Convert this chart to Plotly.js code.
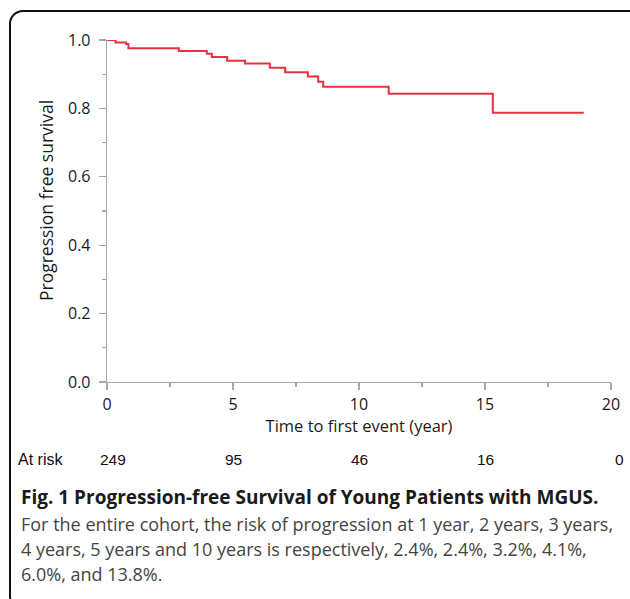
<!DOCTYPE html>
<html>
<head>
<meta charset="utf-8">
<script src="https://cdn.plot.ly/plotly-3.0.1.min.js"></script>
<style>
  html, body { margin: 0; padding: 0; background: #fff; overflow: hidden; }
  #wrap { position: relative; width: 630px; height: 599px; }
  #frame { position: absolute; left: 9px; top: 10px; width: 640px; height: 600px;
           border: 2.5px solid #111; border-radius: 14px; box-sizing: border-box; pointer-events: none; }
  #chart { position: absolute; left: 0; top: 0; width: 630px; height: 599px; }
</style>
</head>
<body>
<div id="wrap">
  <div id="chart"></div>
  <div id="frame"></div>
</div>
<script>
// Kaplan-Meier step curve (time in years, progression-free survival)
const times = [0, 0.34, 0.76, 0.85, 2.85, 3.96, 4.16, 4.77, 5.48, 6.46, 7.07, 7.97, 8.38, 8.58, 11.18, 15.31, 18.92];
const survival = [1.0, 0.993, 0.988, 0.976, 0.968, 0.960, 0.950, 0.939, 0.931, 0.919, 0.906, 0.893, 0.878, 0.863, 0.843, 0.787, 0.787];

// Numbers at risk
const riskTimes = [0, 5, 10, 15, 20];
const riskCounts = ["249", "95", "46", "16", "0"];

const xTitle = "Time to first event (year)";
const yTitle = "Progression free survival";
const captionTitle = "Fig. 1 Progression-free Survival of Young Patients with MGUS.";
const captionLines = [
  "For the entire cohort, the risk of progression at 1 year, 2 years, 3 years,",
  "4 years, 5 years and 10 years is respectively, 2.4%, 2.4%, 3.2%, 4.1%,",
  "6.0%, and 13.8%."
];

const W = 630, H = 599;
const mL = 107, mR = 19, mT = 40, mB = 217;
const plotH = H - mT - mB;
const plotW = W - mL - mR;
const py = (pix) => (H - mB - pix) / plotH;   // pixel y -> paper y
const px = (pix) => (pix - mL) / plotW;       // pixel x -> paper x

const axisColor = "#a8a8a8";
const tickFont = { family: "Open Sans, Noto Sans, sans-serif", size: 16, color: "#1a1a1a" };

const annotations = [];
annotations.push({
  xref: "paper", yref: "paper", x: px(46), y: py(201), xanchor: "center", yanchor: "middle",
  textangle: -90, text: yTitle, showarrow: false,
  font: { family: tickFont.family, size: 17.5, color: "#1a1a1a" }
});
annotations.push({
  xref: "paper", yref: "paper", x: px(16), y: py(459), xanchor: "left", yanchor: "middle",
  text: "At risk", showarrow: false,
  font: { family: "Liberation Sans, Arial, sans-serif", size: 16, color: "#111" }
});
riskTimes.forEach((t, i) => {
  annotations.push({
    xref: "x", yref: "paper", x: t, y: py(459), xanchor: "center", yanchor: "middle",
    xshift: i === 0 ? 6 : (i === riskTimes.length - 1 ? 8 : 0),
    text: riskCounts[i], showarrow: false,
    font: { family: "Liberation Sans, Arial, sans-serif", size: 15.5, color: "#111" }
  });
});
annotations.push({
  xref: "paper", yref: "paper", x: px(19), y: py(497), xanchor: "left", yanchor: "middle",
  text: "<b>" + captionTitle + "</b>", showarrow: false,
  font: { family: "Open Sans, Noto Sans, sans-serif", size: 19, color: "#1a1a1a" }
});
const lineY = [524, 549, 574];
captionLines.forEach((s, i) => {
  annotations.push({
    xref: "paper", yref: "paper", x: px(19), y: py(lineY[i]), xanchor: "left", yanchor: "middle",
    text: s, showarrow: false,
    font: { family: "Open Sans, Noto Sans, sans-serif", size: 18, color: "#444" }
  });
});

const trace = {
  x: times, y: survival, type: "scatter", mode: "lines",
  line: { shape: "hv", color: "#e8303f", width: 2 },
  hoverinfo: "skip"
};

const layout = {
  width: W, height: H,
  margin: { l: mL, r: mR, t: mT, b: mB, pad: 0 },
  paper_bgcolor: "#fff", plot_bgcolor: "#fff",
  showlegend: false,
  xaxis: {
    range: [0, 20], tickvals: [0, 5, 10, 15, 20], ticktext: ["0", "5", "10", "15", "20"],
    showgrid: false, zeroline: false, showline: true, linecolor: axisColor, linewidth: 1.3,
    ticks: "outside", ticklen: 7, tickcolor: axisColor, tickwidth: 1.3,
    minor: { tickvals: [2.5, 7.5, 12.5, 17.5], ticks: "outside", ticklen: 4, tickcolor: axisColor, tickwidth: 1.3 },
    tickfont: tickFont,
    title: { text: xTitle, font: { family: tickFont.family, size: 16.5, color: "#1a1a1a" }, standoff: 2 }
  },
  yaxis: {
    range: [0, 1], tickvals: [0, 0.2, 0.4, 0.6, 0.8, 1.0], ticktext: ["0.0", "0.2", "0.4", "0.6", "0.8", "1.0"],
    showgrid: false, zeroline: false, showline: true, linecolor: axisColor, linewidth: 1.3,
    ticks: "outside", ticklen: 7, tickcolor: axisColor, tickwidth: 1.3,
    minor: { tickvals: [0.1, 0.3, 0.5, 0.7, 0.9], ticks: "outside", ticklen: 4, tickcolor: axisColor, tickwidth: 1.3 },
    tickfont: tickFont, ticklabelstandoff: 5
  },
  annotations: annotations
};

Plotly.newPlot("chart", [trace], layout, { displayModeBar: false, staticPlot: true });
</script>
</body>
</html>
